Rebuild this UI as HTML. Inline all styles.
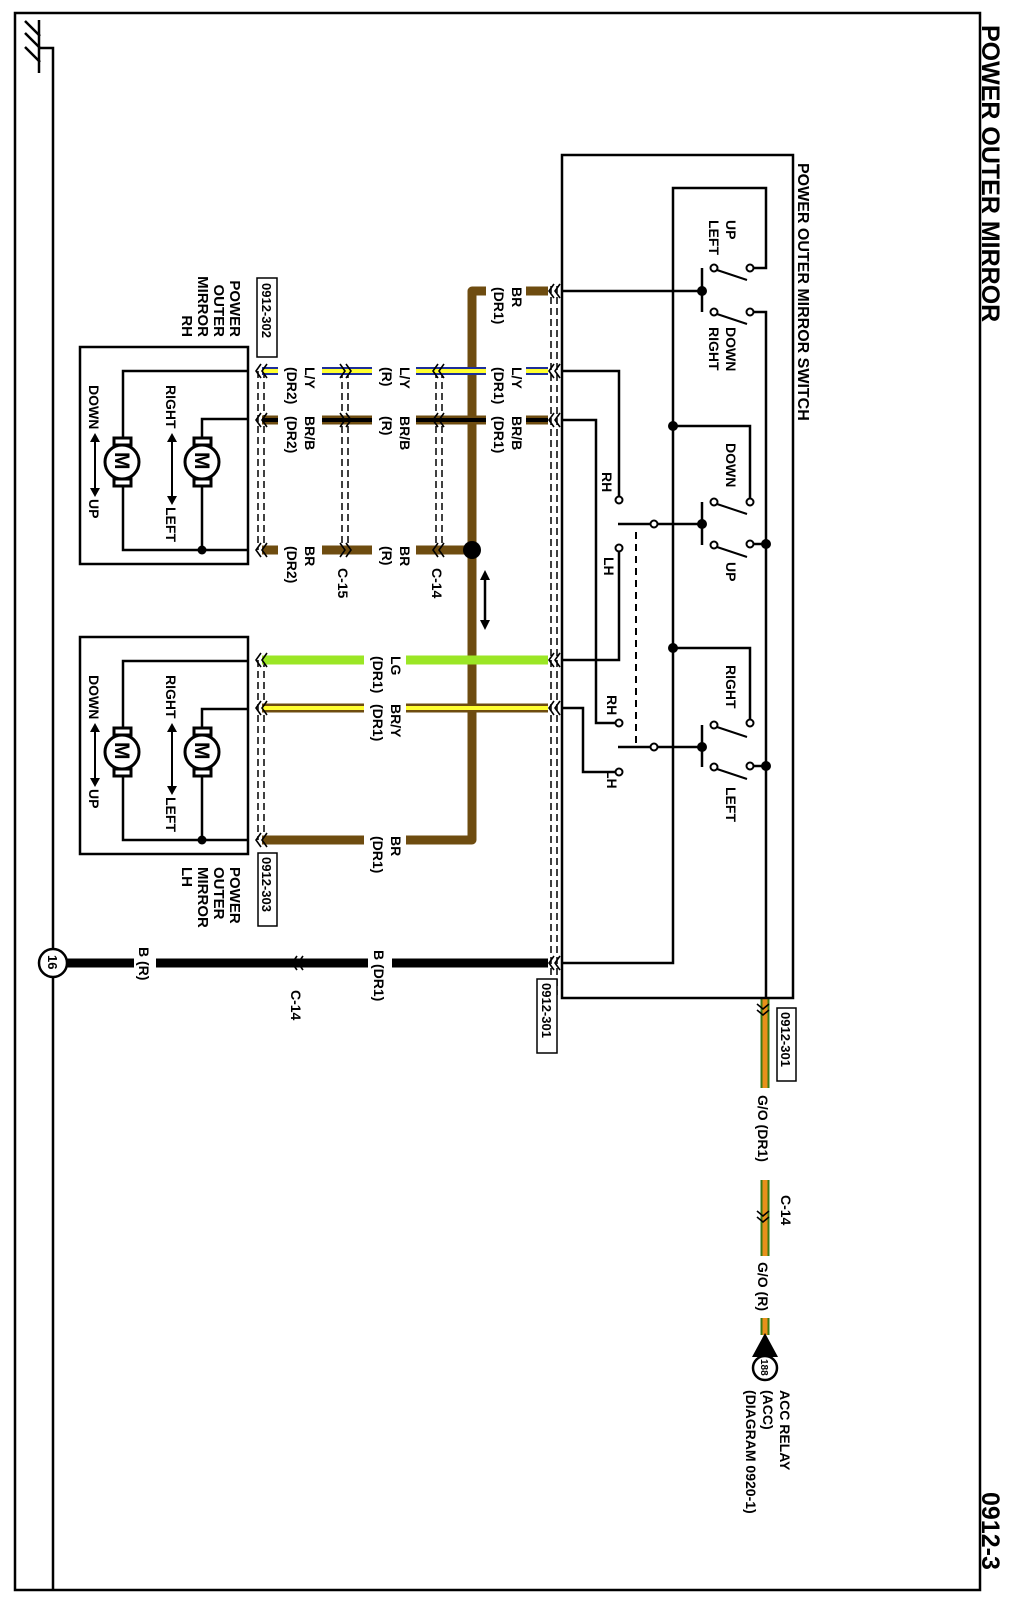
<!DOCTYPE html>
<html><head><meta charset="utf-8"><style>
html,body{margin:0;padding:0;background:#fff}
svg{display:block}
text{font-family:"Liberation Sans",sans-serif;font-weight:bold;fill:#000}
</style></head><body>
<svg width="1014" height="1602" viewBox="0 0 1014 1602" xmlns="http://www.w3.org/2000/svg" style="font-size:14px">
<rect x="0" y="0" width="1014" height="1602" fill="#fff"/>
<path d="M980,13 H15 V1590 H980 Z" fill="none" stroke="#000" stroke-width="2.5"/>
<g stroke="#000" stroke-width="2.5" fill="none">
<path d="M39,20 V73"/><path d="M25,21 L40,36 M25,33 L40,48 M25,47 L40,62"/>
<path d="M39,48 H53 V1590"/>
</g>
<g stroke="#000" stroke-width="1.5" stroke-dasharray="7,4" fill="none">
<path d="M551,286 V995 M557,286 V995"/>
<path d="M258,371 V550 M264,371 V550"/>
<path d="M342,371 V550 M348,371 V550"/>
<path d="M436,371 V550 M442,371 V550"/>
<path d="M258,660 V840 M264,660 V840"/>
</g>
<g fill="none" stroke-linecap="butt">
<path d="M548,291 H472 V840 H262" stroke="#6e4c10" stroke-width="9" stroke-linejoin="round"/>
<path d="M262,371 H548" stroke="#1d2f9a" stroke-width="8"/>
<path d="M262,371 H548" stroke="#ffff30" stroke-width="4"/>
<path d="M262,420 H548" stroke="#6e4c10" stroke-width="9"/>
<path d="M262,420 H548" stroke="#000" stroke-width="4"/>
<path d="M262,550 H472" stroke="#6e4c10" stroke-width="9"/>
<path d="M262,660 H548" stroke="#9be625" stroke-width="9"/>
<path d="M262,708 H548" stroke="#6e4c10" stroke-width="9"/>
<path d="M262,708 H548" stroke="#ffff30" stroke-width="4"/>
<path d="M66,963 H548" stroke="#000" stroke-width="9"/>
<path d="M765,998 V1335" stroke="#3c7a12" stroke-width="9"/>
<path d="M765,998 V1335" stroke="#e8901a" stroke-width="5"/>
</g>
<circle cx="472" cy="550" r="9" fill="#000"/>
<path d="M485,578 V622" stroke="#000" stroke-width="2.5"/>
<path d="M480,580 L485,570 L490,580 Z M480,620 L485,630 L490,620 Z" fill="#000"/>
<g fill="#fff">
<rect x="486" y="284" width="40" height="14"/><rect x="486" y="364" width="40" height="14"/><rect x="486" y="413" width="40" height="14"/>
<rect x="372" y="364" width="44" height="14"/><rect x="372" y="413" width="44" height="14"/><rect x="372" y="543" width="44" height="14"/>
<rect x="278" y="364" width="44" height="14"/><rect x="278" y="413" width="44" height="14"/><rect x="278" y="543" width="44" height="14"/>
<rect x="364" y="653" width="42" height="14"/><rect x="364" y="701" width="42" height="14"/><rect x="364" y="833" width="42" height="14"/>
<rect x="134" y="955" width="22" height="16"/><rect x="368" y="955" width="24" height="16"/>
<rect x="755" y="1088" width="20" height="92"/><rect x="755" y="1256" width="20" height="62"/>
</g>
<g stroke="#000" stroke-width="1.6" fill="none">
<path d="M554,284 L549,291 L554,298 M560,284 L555,291 L560,298"/>
<path d="M554,364 L549,371 L554,378 M560,364 L555,371 L560,378"/>
<path d="M554,413 L549,420 L554,427 M560,413 L555,420 L560,427"/>
<path d="M554,653 L549,660 L554,667 M560,653 L555,660 L560,667"/>
<path d="M554,701 L549,708 L554,715 M560,701 L555,708 L560,715"/>
<path d="M554,956 L549,963 L554,970 M560,956 L555,963 L560,970"/>
<path d="M261,364 L256,371 L261,378 M267,364 L262,371 L267,378"/>
<path d="M261,413 L256,420 L261,427 M267,413 L262,420 L267,427"/>
<path d="M261,543 L256,550 L261,557 M267,543 L262,550 L267,557"/>
<path d="M261,653 L256,660 L261,667 M267,653 L262,660 L267,667"/>
<path d="M261,701 L256,708 L261,715 M267,701 L262,708 L267,715"/>
<path d="M261,833 L256,840 L261,847 M267,833 L262,840 L267,847"/>
<path d="M340,364 L345,371 L340,378 M346,364 L351,371 L346,378"/>
<path d="M340,413 L345,420 L340,427 M346,413 L351,420 L346,427"/>
<path d="M340,543 L345,550 L340,557 M346,543 L351,550 L346,557"/>
<path d="M438,364 L433,371 L438,378 M444,364 L439,371 L444,378"/>
<path d="M438,413 L433,420 L438,427 M444,413 L439,420 L444,427"/>
<path d="M438,543 L433,550 L438,557 M444,543 L439,550 L444,557"/>
<path d="M297,956 L292,963 L297,970 M303,956 L298,963 L303,970"/>
<path d="M757,1004 L763,1009 L769,1004 M757,1010 L763,1015 L769,1010"/>
<path d="M757,1211 L763,1216 L769,1211 M757,1217 L763,1222 L769,1217"/>
</g>
<rect x="562" y="155" width="231" height="843" fill="none" stroke="#000" stroke-width="2.5"/>
<g stroke="#000" stroke-width="2.5" fill="none">
<path d="M562,291 H702"/>
<path d="M562,963 H673 V188 H766 V268 H750"/>
<path d="M702,268 V312"/>
<path d="M750,312 H766 V998"/>
<path d="M673,426 H750 V502"/>
<path d="M702,502 V545"/>
<path d="M750,544 H766"/>
<path d="M618,524 H702"/>
<path d="M562,371 H619 V500"/>
<path d="M562,420 H596 V723 H619"/>
<path d="M619,548 V660 H562"/>
<path d="M562,708 H583 V772 H619"/>
<path d="M618,747 H702"/>
<path d="M702,725 V767"/>
<path d="M673,648 H750 V723"/>
<path d="M750,766 H766"/>
</g>
<g stroke="#000" stroke-width="2" fill="none">
<path d="M717,270 L747,280 M717,314 L747,324 M717,504 L747,514 M717,547 L747,557 M717,727 L747,737 M717,769 L747,779"/>
</g>
<path d="M636,532 V745" stroke="#000" stroke-width="2" stroke-dasharray="7,5"/>
<g fill="#fff" stroke="#000" stroke-width="2">
<circle cx="750" cy="268" r="3.5"/><circle cx="714" cy="268" r="3.5"/><circle cx="714" cy="312" r="3.5"/><circle cx="750" cy="312" r="3.5"/>
<circle cx="750" cy="502" r="3.5"/><circle cx="714" cy="502" r="3.5"/><circle cx="714" cy="545" r="3.5"/><circle cx="750" cy="544" r="3.5"/>
<circle cx="654" cy="524" r="3.5"/><circle cx="619" cy="500" r="3.5"/><circle cx="619" cy="548" r="3.5"/>
<circle cx="654" cy="747" r="3.5"/><circle cx="619" cy="723" r="3.5"/><circle cx="619" cy="772" r="3.5"/>
<circle cx="750" cy="723" r="3.5"/><circle cx="714" cy="725" r="3.5"/><circle cx="714" cy="767" r="3.5"/><circle cx="750" cy="766" r="3.5"/>
</g>
<g fill="#000">
<circle cx="702" cy="291" r="5"/><circle cx="673" cy="426" r="5"/><circle cx="702" cy="524" r="5"/><circle cx="766" cy="544" r="5"/>
<circle cx="673" cy="648" r="5"/><circle cx="702" cy="747" r="5"/><circle cx="766" cy="766" r="5"/>
</g>
<g id="mir">
<rect x="80" y="347" width="168" height="217" fill="none" stroke="#000" stroke-width="2.5"/>
<g stroke="#000" stroke-width="2.5" fill="none">
<path d="M248,371 H123 V437 M123,487 V550 H248 M248,419 H202 V437 M202,487 V550"/>
</g>
<g fill="#fff" stroke="#000" stroke-width="3">
<rect x="114" y="438" width="17" height="7"/><rect x="114" y="479" width="17" height="7"/>
<rect x="194" y="438" width="17" height="7"/><rect x="194" y="479" width="17" height="7"/>
<circle cx="122" cy="462" r="17"/><circle cx="202" cy="462" r="17"/>
</g>
<circle cx="202" cy="550" r="4.5" fill="#000"/>
<text transform="translate(115,452) rotate(90)" style="font-size:21px">M</text>
<text transform="translate(195,452) rotate(90)" style="font-size:21px">M</text>
<path d="M172,440 V498 M95,440 V490" stroke="#000" stroke-width="2"/>
<path d="M167,442 L172,433 L177,442 Z M167,496 L172,505 L177,496 Z M90,442 L95,433 L100,442 Z M90,488 L95,497 L100,488 Z" fill="#000"/>
<text transform="translate(166,385) rotate(90)">RIGHT</text>
<text transform="translate(166,507) rotate(90)">LEFT</text>
<text transform="translate(89,385) rotate(90)">DOWN</text>
<text transform="translate(89,499) rotate(90)">UP</text>
</g>
<use href="#mir" transform="translate(0,290)"/>
<text transform="translate(512,287) rotate(90)">BR<tspan x="0" dy="18">(DR1)</tspan></text>
<text transform="translate(512,367) rotate(90)">L/Y<tspan x="0" dy="18">(DR1)</tspan></text>
<text transform="translate(512,416) rotate(90)">BR/B<tspan x="0" dy="18">(DR1)</tspan></text>
<text transform="translate(400,367) rotate(90)">L/Y<tspan x="0" dy="18">(R)</tspan></text>
<text transform="translate(400,416) rotate(90)">BR/B<tspan x="0" dy="18">(R)</tspan></text>
<text transform="translate(400,546) rotate(90)">BR<tspan x="0" dy="18">(R)</tspan></text>
<text transform="translate(305,367) rotate(90)">L/Y<tspan x="0" dy="18">(DR2)</tspan></text>
<text transform="translate(305,416) rotate(90)">BR/B<tspan x="0" dy="18">(DR2)</tspan></text>
<text transform="translate(305,546) rotate(90)">BR<tspan x="0" dy="18">(DR2)</tspan></text>
<text transform="translate(391,656) rotate(90)">LG<tspan x="0" dy="18">(DR1)</tspan></text>
<text transform="translate(391,704) rotate(90)">BR/Y<tspan x="0" dy="18">(DR1)</tspan></text>
<text transform="translate(391,836) rotate(90)">BR<tspan x="0" dy="18">(DR1)</tspan></text>
<text transform="translate(338,568) rotate(90)">C-15</text>
<text transform="translate(432,568) rotate(90)">C-14</text>
<text transform="translate(139,947) rotate(90)">B (R)</text>
<text transform="translate(374,950) rotate(90)">B (DR1)</text>
<text transform="translate(291,990) rotate(90)">C-14</text>
<text transform="translate(758,1095) rotate(90)">G/O (DR1)</text>
<text transform="translate(781,1195) rotate(90)">C-14</text>
<text transform="translate(758,1262) rotate(90)">G/O (R)</text>
<text transform="translate(230,337) rotate(90)" text-anchor="end" style="font-size:15px">POWER<tspan x="0" dy="16">OUTER</tspan><tspan x="0" dy="16">MIRROR</tspan><tspan x="0" dy="16">RH</tspan></text>
<text transform="translate(230,867) rotate(90)" style="font-size:15px">POWER<tspan x="0" dy="16">OUTER</tspan><tspan x="0" dy="16">MIRROR</tspan><tspan x="0" dy="16">LH</tspan></text>
<g fill="#fff" stroke="#000" stroke-width="1.5">
<rect x="257" y="278" width="20" height="79"/><rect x="258" y="853" width="19" height="73"/>
<rect x="537" y="979" width="20" height="74"/><rect x="777" y="1008" width="19" height="73"/>
</g>
<text transform="translate(262,283) rotate(90)" style="font-size:13px">0912-302</text>
<text transform="translate(262,857) rotate(90)" style="font-size:13px">0912-303</text>
<text transform="translate(542,983) rotate(90)" style="font-size:13px">0912-301</text>
<text transform="translate(781,1012) rotate(90)" style="font-size:13px">0912-301</text>
<text transform="translate(798,163) rotate(90)" style="font-size:16px">POWER OUTER MIRROR SWITCH</text>
<text transform="translate(726,220) rotate(90)">UP<tspan x="0" dy="17">LEFT</tspan></text>
<text transform="translate(726,327) rotate(90)">DOWN<tspan x="0" dy="17">RIGHT</tspan></text>
<text transform="translate(726,443) rotate(90)">DOWN</text>
<text transform="translate(726,562) rotate(90)">UP</text>
<text transform="translate(726,665) rotate(90)">RIGHT</text>
<text transform="translate(726,787) rotate(90)">LEFT</text>
<text transform="translate(602,472) rotate(90)">RH</text>
<text transform="translate(604,557) rotate(90)">LH</text>
<text transform="translate(607,695) rotate(90)">RH</text>
<text transform="translate(607,770) rotate(90)">LH</text>
<circle cx="53" cy="963" r="14" fill="#fff" stroke="#000" stroke-width="2.5"/>
<text transform="translate(48,955) rotate(90)" style="font-size:13px">16</text>
<path d="M752,1357 L765,1333 L778,1357 Z" fill="#000"/>
<circle cx="765" cy="1368" r="12" fill="#fff" stroke="#000" stroke-width="2.5"/>
<text transform="translate(761,1359) rotate(90)" style="font-size:10px">188</text>
<text transform="translate(780,1390) rotate(90)">ACC RELAY<tspan x="0" dy="17">(ACC)</tspan><tspan x="0" dy="17">(DIAGRAM 0920-1)</tspan></text>
<text transform="translate(982,25) rotate(90)" style="font-size:25px">POWER OUTER MIRROR</text>
<text transform="translate(982,1492) rotate(90)" style="font-size:25px">0912-3</text>
</svg>
</body></html>
